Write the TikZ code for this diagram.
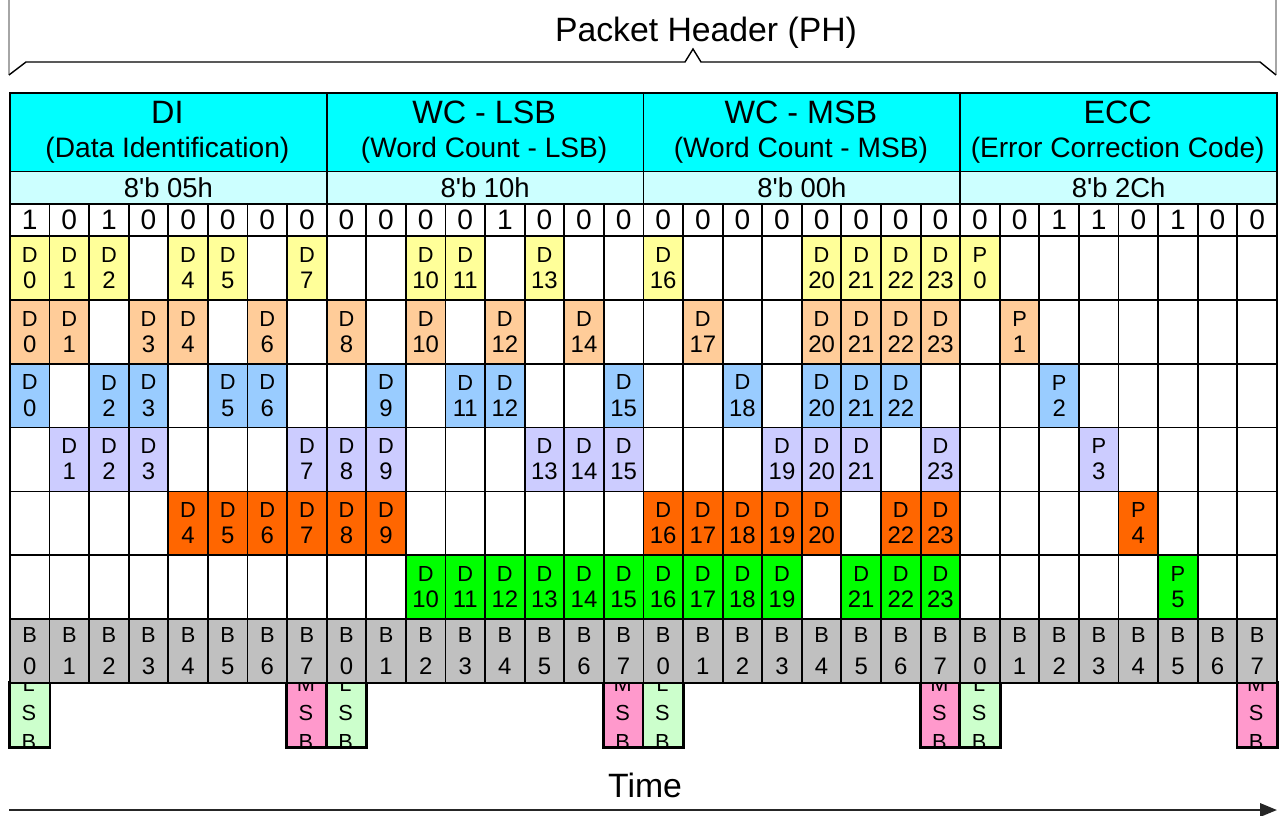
\documentclass[tikz,border=0pt]{standalone}
\usepackage{fontspec}
\setmainfont{Liberation Sans}
\usetikzlibrary{arrows.meta,positioning}
\definecolor{field}{HTML}{00FFFF}
\definecolor{fieldlight}{HTML}{CCFFFF}
\definecolor{yellow}{HTML}{FFFF99}
\definecolor{peach}{HTML}{FFCC99}
\definecolor{sky}{HTML}{99CCFF}
\definecolor{lilac}{HTML}{CCCCFF}
\definecolor{tangerine}{HTML}{FF6600}
\definecolor{lime}{HTML}{00FF00}
\definecolor{bytegray}{HTML}{C0C0C0}
\definecolor{lsbgreen}{HTML}{CCFFCC}
\definecolor{msbpink}{HTML}{FF99CC}
\newcommand\num[1]{{\fontsize{17}{18.5}\selectfont#1}}
\tikzset{grid/.style={draw=black,line width=1.3pt,inner sep=0pt,anchor=north west,align=center},
cell/.style={grid,minimum width=0.9898cm,minimum height=1.5969cm,font=\fontsize{15.5}{18.5}\selectfont},
bytecell/.style={cell,fill=bytegray,font=\fontsize{15.5}{22.7}\selectfont},
bitcell/.style={grid,minimum width=0.9898cm,minimum height=0.8cm,font=\fontsize{20}{24}\selectfont},
fieldbox/.style={grid,minimum width=7.9188cm,minimum height=1.9625cm,fill=field},
valuebox/.style={grid,minimum width=7.9188cm,minimum height=0.8125cm,fill=fieldlight,font=\fontsize{19.5}{23}\selectfont},
big/.style={font=\fontsize{24}{28}\selectfont,inner sep=0pt},
title/.style={font=\fontsize{23}{27}\selectfont,inner sep=0pt},
subtitle/.style={font=\fontsize{20}{24}\selectfont,inner sep=0pt},
sbbox/.style={grid,minimum width=0.9898cm,minimum height=1.5969cm},
sbtext/.style={font=\fontsize{15.5}{18}\selectfont,inner sep=0pt},
timearr/.style={-{Triangle[length=0.42cm,width=0.33cm]},line width=1.6pt,black!85}}

\begin{document}
\begin{tikzpicture}[x=0.025cm,y=-0.025cm]
\useasboundingbox (0,0) rectangle (1279,815);
% packet header brace
\draw[black!35,line width=0.8pt] (9,0)--(9,75) (1276,0)--(1276,75);
\draw[line width=1pt,line join=miter] (9,75)--(26,62)--(685,62)--(693,49)--(701,62)--(1260,62)--(1276,75);
\node[big] (ph) at (706,33) {Packet Header (PH)};

% the four header bytes
\foreach \f/\t/\s/\v [count=\i from 0] in {di/DI/Data Identification/05h,wcl/WC - LSB/Word Count - LSB/10h,wcm/WC - MSB/Word Count - MSB/00h,ecc/ECC/Error Correction Code/2Ch}{
  \node[fieldbox] (\f) at ({9+\i*316.75},92) {};
  \node[title] (\f-t) at ({167.4+\i*316.75},112) {\t};
  \node[subtitle] (\f-s) at ({167.4+\i*316.75},150.5) {(\s)};
  \node[valuebox] (\f-v) at ({9+\i*316.75},170.5) {8\textquotesingle b \v};
}
\foreach \b [count=\i from 0] in {1,0,1,0,0,0,0,0,0,0,0,0,1,0,0,0,0,0,0,0,0,0,0,0,0,0,1,1,0,1,0,0}
  \node[bitcell] (bit\i) at ({9+\i*39.594},203) {\b};

% empty grid, then the parity rows
\foreach \r in {0,...,5}
  \foreach \c in {0,...,31}
    \node[cell] (e\r-\c) at ({9+\c*39.594},{235+\r*63.875}) {};
\foreach \c/\l/\n in {0/D/0,1/D/1,2/D/2,4/D/4,5/D/5,7/D/7,10/D/10,11/D/11,13/D/13,16/D/16,20/D/20,21/D/21,22/D/22,23/D/23,24/P/0}
  \node[cell,fill=yellow] (p0-\c) at ({9+\c*39.594},235) {\l\\\num{\n}};
\foreach \c/\l/\n in {0/D/0,1/D/1,3/D/3,4/D/4,6/D/6,8/D/8,10/D/10,12/D/12,14/D/14,17/D/17,20/D/20,21/D/21,22/D/22,23/D/23,25/P/1}
  \node[cell,fill=peach] (p1-\c) at ({9+\c*39.594},298.875) {\l\\\num{\n}};
\foreach \c/\l/\n in {0/D/0,2/D/2,3/D/3,5/D/5,6/D/6,9/D/9,11/D/11,12/D/12,15/D/15,18/D/18,20/D/20,21/D/21,22/D/22,26/P/2}
  \node[cell,fill=sky] (p2-\c) at ({9+\c*39.594},362.75) {\l\\\num{\n}};
\foreach \c/\l/\n in {1/D/1,2/D/2,3/D/3,7/D/7,8/D/8,9/D/9,13/D/13,14/D/14,15/D/15,19/D/19,20/D/20,21/D/21,23/D/23,27/P/3}
  \node[cell,fill=lilac] (p3-\c) at ({9+\c*39.594},426.625) {\l\\\num{\n}};
\foreach \c/\l/\n in {4/D/4,5/D/5,6/D/6,7/D/7,8/D/8,9/D/9,16/D/16,17/D/17,18/D/18,19/D/19,20/D/20,22/D/22,23/D/23,28/P/4}
  \node[cell,fill=tangerine] (p4-\c) at ({9+\c*39.594},490.5) {\l\\\num{\n}};
\foreach \c/\l/\n in {10/D/10,11/D/11,12/D/12,13/D/13,14/D/14,15/D/15,16/D/16,17/D/17,18/D/18,19/D/19,21/D/21,22/D/22,23/D/23,29/P/5}
  \node[cell,fill=lime] (p5-\c) at ({9+\c*39.594},554.375) {\l\\\num{\n}};

% LSB / MSB markers, text cut by the box
\foreach \c/\a/\k in {0/L/lsbgreen,7/M/msbpink,8/L/lsbgreen,15/M/msbpink,16/L/lsbgreen,23/M/msbpink,24/L/lsbgreen,31/M/msbpink}{
  \node[sbbox,fill=\k] (sb\c) at ({9+\c*39.594},682.25) {};
  \begin{scope}
    \clip (sb\c.north west) rectangle (sb\c.south east);
    \node[sbtext] (sb\c-a) at ({28.8+\c*39.594},684) {\a};
    \node[sbtext] (sb\c-b) at ({28.8+\c*39.594},713) {S};
    \node[sbtext] (sb\c-c) at ({28.8+\c*39.594},742) {B};
  \end{scope}
  \draw[line width=1.3pt] (sb\c.north west) rectangle (sb\c.south east);
}
\foreach \c in {0,...,31}{
  \pgfmathtruncatemacro\n{mod(\c,8)}
  \node[bytecell] (b\c) at ({9+\c*39.594},618.25) {B\\\num{\n}};
}

% time axis
\node[big] (time) at (645,785) {Time};
\coordinate (t0) at (9,810);
\coordinate (t1) at (1277,810);
\draw[timearr] (t0)--(t1);
\end{tikzpicture}
\end{document}
